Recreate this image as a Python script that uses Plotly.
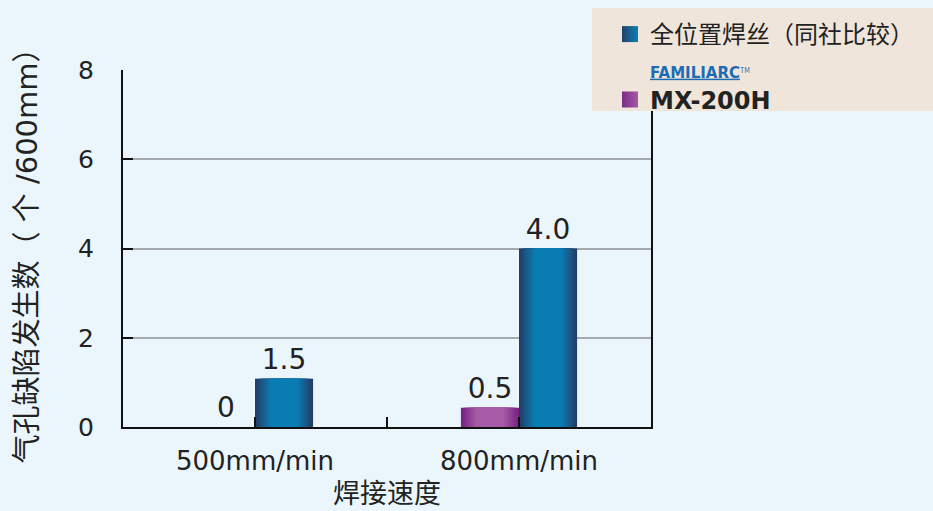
import plotly.graph_objects as go

# ---- data (bar heights as drawn in the picture; labels as printed) ----
categories = ["500mm/min", "800mm/min"]
series_names = [
    "全位置焊丝（同社比较）",
    "<span style='font-family:DejaVu Sans;font-size:15px;color:#1c6db4'><b><u>FAMILIARC</u></b></span><span style='font-size:10px;color:#1c6db4'><sup>TM</sup></span><br><span style='font-family:DejaVu Sans;font-size:24px'><b>MX-200H</b></span>",
]
comp_values = [1.08, 4.0]     # 全位置焊丝（同社比较）
mx_values = [0.0, 0.43]       # FAMILIARC MX-200H
comp_labels = ["1.5", "4.0"]
mx_labels = ["0", "0.5"]
y_ticks = [0, 2, 4, 6, 8]
x_title = "焊接速度"
y_title = "气孔缺陷发生数（ 个 /600mm）"

FONT = "DejaVu Sans, Noto Sans CJK SC, sans-serif"
CJK = "Noto Sans CJK SC, DejaVu Sans, sans-serif"
BG = "#eaf6fc"
TXT = "#222222"
x_pos = list(range(len(categories)))

BAR_W = 0.22
N_LAYERS = 12


def lerp(c1, c2, t):
    a = [int(c1[i:i + 2], 16) for i in (1, 3, 5)]
    b = [int(c2[i:i + 2], 16) for i in (1, 3, 5)]
    return "#" + "".join(f"{round(a[i] + (b[i] - a[i]) * t):02x}" for i in range(3))


fig = go.Figure()


def add_gradient_bar(values, labels, center, edge_col, mid_col, group):
    for k in range(N_LAYERS):
        w = BAR_W * (1 - k / N_LAYERS)
        t = min(1.0, (k / (N_LAYERS - 1)) * 1.8)
        col = lerp(edge_col, mid_col, t)
        fig.add_trace(go.Bar(
            x=x_pos, y=values,
            width=[w] * len(values),
            offset=[center - w / 2] * len(values),
            marker=dict(color=col, line=dict(width=0)),
            showlegend=False,
            legendgroup=group,
            text=labels if k == 0 else None,
            textposition="outside" if k == 0 else "none",
            textfont=dict(family=FONT, size=28, color=TXT),
            cliponaxis=False,
            hoverinfo="skip",
        ))


def add_legend_entry(name, c_left, c_right, group, rank):
    fig.add_trace(go.Scatter(
        x=[None], y=[None], mode="markers", name=name,
        legendgroup=group, legendrank=rank,
        marker=dict(symbol="square", size=20, color=c_left,
                    gradient=dict(type="horizontal", color=c_right),
                    line=dict(width=0)),
    ))


add_gradient_bar(mx_values, mx_labels, -BAR_W / 2, "#782583", "#a75ca7", "mx")
add_gradient_bar(comp_values, comp_labels, BAR_W / 2, "#233f69", "#0a7db4", "comp")
add_legend_entry(series_names[0], "#23406a", "#0a82b8", "comp", 1)
add_legend_entry(series_names[1], "#7c2a88", "#a45aa5", "mx", 2)

# legend background box
fig.add_shape(type="rect", xref="paper", yref="paper",
              x0=(592 - 123) / 528, x1=(940 - 123) / 528,
              y0=(427 - 111) / 357, y1=(427 - 8) / 357,
              fillcolor="#efe5da", line=dict(width=0), layer="above")

fig.update_layout(
    width=933, height=511,
    margin=dict(l=123, r=282, t=70, b=84, autoexpand=False),
    paper_bgcolor=BG, plot_bgcolor=BG,
    barmode="overlay",
    font=dict(family=FONT, color=TXT),
    showlegend=True,
    legend=dict(
        x=(610 - 123) / 528, xanchor="left",
        y=(427 - 12) / 357, yanchor="top",
        bgcolor="rgba(0,0,0,0)", borderwidth=0,
        font=dict(family=CJK, size=24, color=TXT),
        valign="bottom",
        tracegroupgap=0,
        itemclick=False,
    ),
    xaxis=dict(
        range=[-0.5, 1.5],
        tickmode="array",
        tickvals=x_pos,
        ticktext=categories,
        ticks="inside", ticklen=10, tickwidth=2, tickcolor="#111111",
        minor=dict(tick0=0, dtick=0.5, ticks="inside", ticklen=10,
                   tickwidth=2, tickcolor="#111111", showgrid=False),
        showline=True, linecolor="#111111", linewidth=2,
        showgrid=False, zeroline=False, automargin=False,
        tickfont=dict(family=FONT, size=26, color=TXT),
        ticklabelstandoff=10,
        title=dict(text=x_title, font=dict(family=CJK, size=27, color=TXT), standoff=8),
    ),
    yaxis=dict(
        range=[0, 8],
        tickvals=y_ticks,
        ticks="inside", ticklen=10, tickwidth=2, tickcolor="#111111",
        showline=True, linecolor="#111111", linewidth=2, mirror=True,
        showgrid=True, gridcolor="#a3a9ad", gridwidth=2,
        zeroline=False, automargin=False,
        tickfont=dict(family=FONT, size=25, color=TXT),
        ticklabelstandoff=22,
        title=dict(text=y_title, font=dict(family=FONT, size=29, color=TXT), standoff=32),
    ),
)

fig.write_html("out.html")
